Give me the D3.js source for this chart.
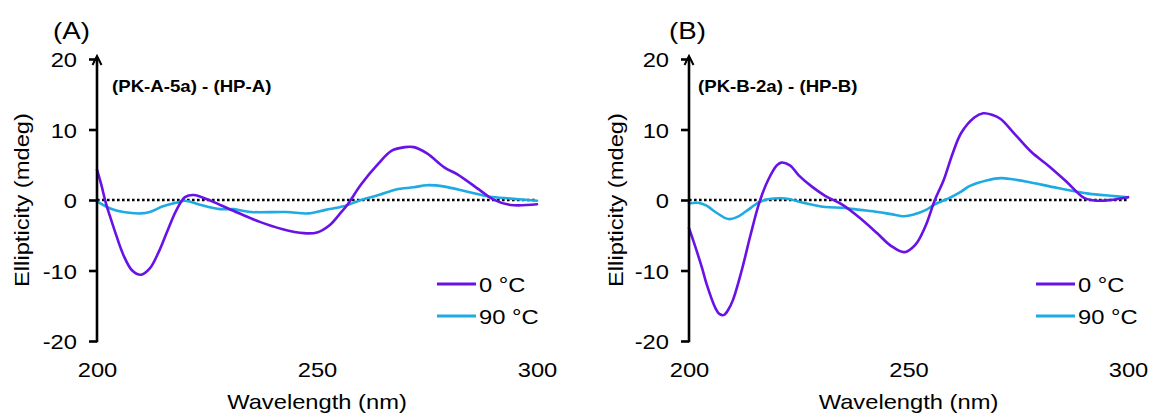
<!DOCTYPE html>
<html>
<head>
<meta charset="utf-8">
<script src="https://cdn.jsdelivr.net/npm/d3@7"></script>
<style>
  html, body { margin: 0; padding: 0; background: #fff; }
  svg { display: block; }
  text { font-family: "Liberation Sans", Arial, sans-serif; fill: #000; }
</style>
</head>
<body>
<svg id="chart" width="1155" height="416"></svg>
<script>
// CD difference spectra, wavelength in nm vs ellipticity in mdeg
const xTicks = [200, 250, 300];
const yTicks = [-20, -10, 0, 10, 20];
const seriesNames = ["0 \u00B0C", "90 \u00B0C"];
const seriesColors = ["#6812e6", "#1eaae3"];

// Panel A: (PK-A-5a) - (HP-A)
const wlA0 = [200, 201, 202, 203, 204, 206, 208, 210, 212, 214, 216, 218, 220, 222, 225, 228, 232, 237, 242, 247, 250, 253, 255, 257, 260, 264, 267, 270, 272, 275, 279, 282, 287, 290, 294, 300];
const cdA0 = [4.3, 2.1, -0.4, -2.4, -4.3, -7.8, -10.0, -10.6, -9.7, -7.4, -4.4, -1.5, 0.4, 0.7, 0.1, -0.7, -1.8, -3.1, -4.1, -4.7, -4.6, -3.5, -2.1, -0.6, 2.2, 5.2, 7.0, 7.5, 7.5, 6.6, 4.6, 3.6, 1.4, 0.1, -0.7, -0.6];
const wlA90 = [200, 203, 206, 210, 212, 215, 218, 220, 223, 228, 231, 235, 243, 248, 252, 256, 260, 264, 268, 272, 275, 279, 284, 289, 294, 300];
const cdA90 = [-0.2, -1.2, -1.7, -1.9, -1.7, -0.9, -0.4, -0.1, -0.6, -1.3, -1.3, -1.7, -1.7, -1.9, -1.4, -0.9, 0.0, 0.7, 1.5, 1.8, 2.1, 1.9, 1.2, 0.5, 0.2, -0.1];

// Panel B: (PK-B-2a) - (HP-B)
const wlB0 = [200, 201, 203, 204, 206, 207, 208, 209, 210, 212, 214, 216, 218, 220, 221, 223, 225, 228, 231, 235, 239, 243, 246, 249, 251, 252, 254, 256, 258, 260, 262, 265, 267, 269, 271, 274, 278, 282, 286, 290, 293, 296, 300];
const cdB0 = [-4.0, -5.8, -9.7, -11.9, -15.3, -16.2, -16.3, -15.5, -14.2, -10.0, -5.0, -0.4, 2.8, 4.9, 5.3, 4.9, 3.5, 1.9, 0.6, -0.7, -2.6, -4.8, -6.5, -7.4, -6.7, -6.0, -3.5, 0.0, 2.8, 6.5, 9.5, 11.7, 12.3, 12.1, 11.5, 9.5, 6.8, 4.8, 2.6, 0.3, -0.1, 0.0, 0.4];
const wlB90 = [200, 202, 204, 206, 209, 211, 213, 216, 218, 221, 223, 226, 231, 235, 239, 243, 246, 249, 251, 254, 256, 259, 262, 264, 268, 271, 274, 277, 284, 291, 296, 300];
const cdB90 = [-0.5, -0.4, -0.8, -1.7, -2.7, -2.4, -1.6, -0.3, 0.1, 0.25, 0.1, -0.4, -1.0, -1.1, -1.4, -1.7, -2.0, -2.3, -2.1, -1.4, -0.6, 0.2, 1.2, 2.0, 2.8, 3.1, 2.9, 2.6, 1.7, 0.9, 0.6, 0.4];

const panelLabels = ["(A)", "(B)"];
const panelNotes = ["(PK-A-5a) - (HP-A)", "(PK-B-2a) - (HP-B)"];

const toPoints = (wl, cd) => wl.map((w, i) => ({ w, v: cd[i] }));
const panelData = [
  [toPoints(wlA0, cdA0), toPoints(wlA90, cdA90)],
  [toPoints(wlB0, cdB0), toPoints(wlB90, cdB90)]
];

// layout of the two panels
const layout = [
  { axisX: 97,  endX: 537,  titleX: 53,  noteX: 112, yLabelX: 29,  legX: 437 },
  { axisX: 689, endX: 1128, titleX: 669, noteX: 698, yLabelX: 623, legX: 1036 }
];
const yTop = 59, yBottom = 341;
const SX = 1.13; // horizontal stretch of the lettering

const svg = d3.select("#chart");

function stretchedText(parent, x, y, str, opts = {}) {
  const g = parent.append("g")
    .attr("transform", `translate(${x},${y}) rotate(${opts.rotate || 0}) scale(${opts.sx || SX},1)`);
  return g.append("text")
    .attr("text-anchor", opts.anchor || "start")
    .style("font-size", (opts.size || 21) + "px")
    .style("font-weight", opts.weight || "normal")
    .text(str);
}

panelData.forEach((series, p) => {
  const L = layout[p];
  const g = svg.append("g");

  const x = d3.scaleLinear().domain([200, 300]).range([L.axisX, L.endX]);
  const y = d3.scaleLinear().domain([-20, 20]).range([yBottom, yTop]);

  // zero reference line
  g.append("line")
    .attr("x1", x(200)).attr("x2", x(300))
    .attr("y1", y(0)).attr("y2", y(0))
    .attr("stroke", "#000")
    .attr("stroke-width", 2.6)
    .attr("stroke-dasharray", "2.6,2.4");

  // spectra
  const line = d3.line()
    .x(d => x(d.w))
    .y(d => y(d.v))
    .curve(d3.curveCatmullRom.alpha(0.5));

  // draw 90 °C first so the 0 °C trace sits on top
  [1, 0].forEach(i => {
    g.append("path")
      .datum(series[i])
      .attr("fill", "none")
      .attr("stroke", seriesColors[i])
      .attr("stroke-width", 2.6)
      .attr("stroke-linejoin", "round")
      .attr("stroke-linecap", "round")
      .attr("d", line);
  });

  // y axis with ticks on the left (plain hyphen for negatives)
  const yAxis = d3.axisLeft(y).tickValues(yTicks).tickSize(8).tickSizeOuter(0)
    .tickFormat(d => String(d));
  const yg = g.append("g").attr("transform", `translate(${L.axisX},0)`).call(yAxis);
  yg.select(".domain").remove();
  yg.selectAll(".tick line").attr("stroke", "#000").attr("stroke-width", 2.6);
  yg.selectAll(".tick text")
    .attr("x", -20 / SX)
    .attr("dy", "0.36em")
    .attr("transform", `scale(${SX},1)`)
    .style("font-size", "21px")
    .style("font-family", '"Liberation Sans", Arial, sans-serif')
    .attr("fill", "#000");
  yg.attr("font-size", null).attr("font-family", null);

  // vertical axis line with arrowhead
  g.append("line")
    .attr("x1", L.axisX).attr("x2", L.axisX)
    .attr("y1", yBottom + 1.3).attr("y2", yTop - 2)
    .attr("stroke", "#000").attr("stroke-width", 2.6);
  g.append("path")
    .attr("d", `M${L.axisX - 4.5},${yTop + 6} L${L.axisX},${yTop - 3} L${L.axisX + 4.5},${yTop + 6}`)
    .attr("fill", "none").attr("stroke", "#000").attr("stroke-width", 2)
    .attr("stroke-linejoin", "miter");

  // x tick labels (no axis line)
  const xAxis = d3.axisBottom(x).tickValues(xTicks).tickSize(0).tickFormat(d => String(d));
  const xg = g.append("g").attr("transform", `translate(0,356)`).call(xAxis);
  xg.select(".domain").remove();
  xg.selectAll(".tick text")
    .attr("y", 21).attr("dy", 0)
    .attr("transform", `scale(${SX},1)`)
    .style("font-size", "21px")
    .style("font-family", '"Liberation Sans", Arial, sans-serif')
    .attr("fill", "#000");
  xg.attr("font-size", null).attr("font-family", null);

  // axis titles
  stretchedText(g, (x(200) + x(300)) / 2, 409, "Wavelength (nm)", { anchor: "middle" });
  stretchedText(g, L.yLabelX, y(0), "Ellipticity (mdeg)", { anchor: "middle", rotate: -90 });

  // panel letter and annotation
  stretchedText(g, L.titleX, 39, panelLabels[p], { size: 24.5 });
  stretchedText(g, L.noteX, 92, panelNotes[p], { size: 16.5, weight: "bold" });

  // legend
  const legRows = [284, 316];
  seriesNames.forEach((name, i) => {
    g.append("line")
      .attr("x1", L.legX).attr("x2", L.legX + 39)
      .attr("y1", legRows[i]).attr("y2", legRows[i])
      .attr("stroke", seriesColors[i]).attr("stroke-width", 3);
    stretchedText(g, L.legX + 42, legRows[i] + 7.5, name, { size: 21 });
  });
});
</script>
</body>
</html>
